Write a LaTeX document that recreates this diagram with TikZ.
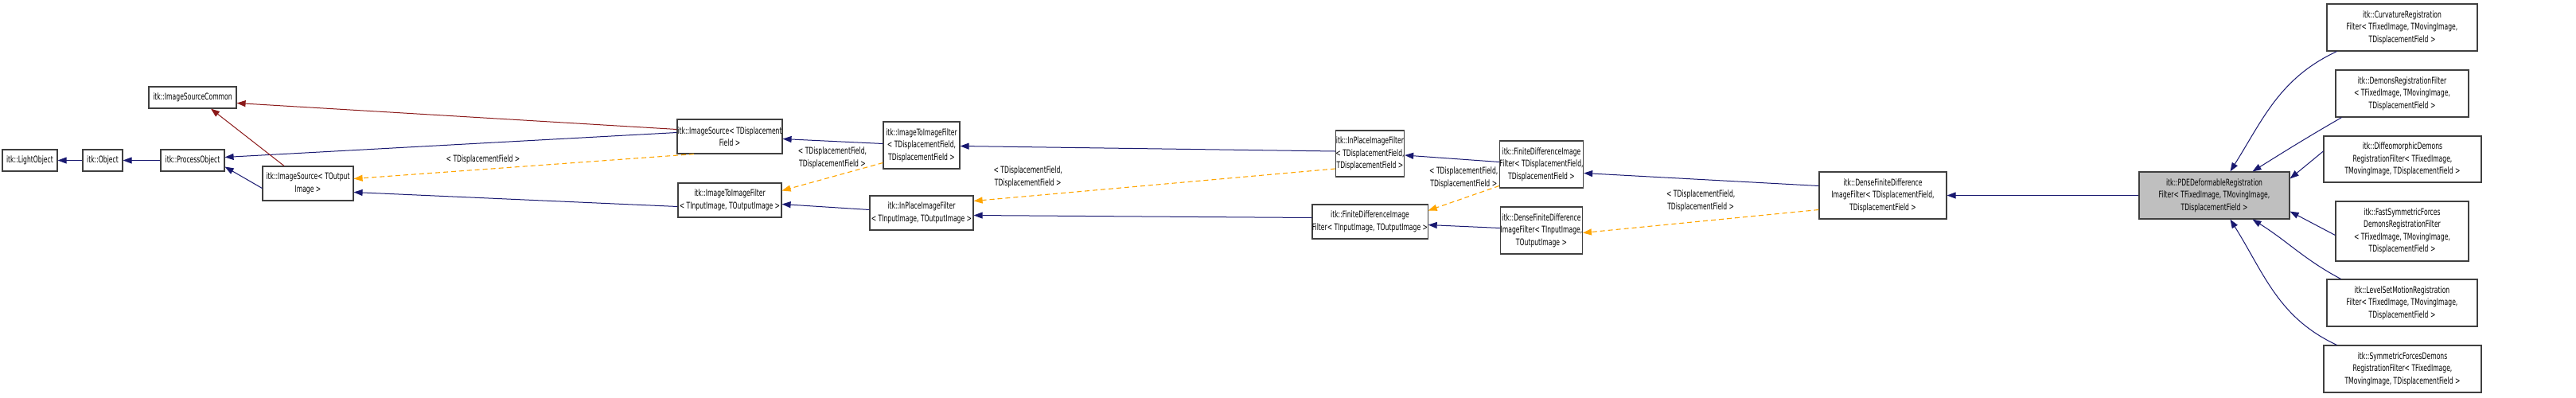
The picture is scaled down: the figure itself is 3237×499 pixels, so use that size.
\documentclass[tikz,border=0pt]{standalone}
\usepackage{fontspec}
\setmainfont{DejaVu Sans Condensed}[FakeStretch=0.74]
\usetikzlibrary{arrows.meta}
\definecolor{navy}{HTML}{191970}
\definecolor{dred}{HTML}{8B1A1A}
\definecolor{org}{HTML}{FFA500}
\begin{document}
\begin{tikzpicture}[x=1pt,y=1pt,
 box/.style={draw=black!75,line width=1.2pt,fill=white,inner sep=0pt,align=center,font=\fontsize{11.5}{15.5}\selectfont},
 lab/.style={inner sep=0pt,align=center,font=\fontsize{11.5}{15.5}\selectfont},
 inh/.style={draw=navy,line width=1pt,-{Triangle[length=11pt,width=8pt]}},
 use/.style={draw=dred,line width=1pt,-{Triangle[length=11pt,width=8pt]}},
 tpl/.style={draw=org,line width=1.1pt,dash pattern=on 6pt off 4pt,-{Triangle[length=11pt,width=8pt]}}]
\useasboundingbox (0,0) rectangle (3237,-499);
% nodes
\node[box,minimum width=69,minimum height=27] (lo) at (37.5,-201.5) {itk::LightObject};
\node[box,minimum width=50,minimum height=27] (ob) at (129,-201.5) {itk::Object};
\node[box,minimum width=80,minimum height=27] (po) at (242,-201.5) {itk::ProcessObject};
\node[box,minimum width=110,minimum height=27] (isc) at (242,-122.5) {itk::ImageSourceCommon};
\node[box,minimum width=114,minimum height=43] (iso) at (387,-230.5) {itk::ImageSource< TOutput\\Image >};
\node[box,minimum width=132,minimum height=43] (isd) at (917,-171.5) {itk::ImageSource< TDisplacement\\Field >};
\node[box,minimum width=130,minimum height=43] (itii) at (917,-251.5) {itk::ImageToImageFilter\\< TInputImage, TOutputImage >};
\node[box,minimum width=96,minimum height=59] (itid) at (1158,-182.5) {itk::ImageToImageFilter\\< TDisplacementField,\\TDisplacementField >};
\node[box,minimum width=130,minimum height=43] (ipi) at (1158,-267.5) {itk::InPlaceImageFilter\\< TInputImage, TOutputImage >};
\node[box,minimum width=83,minimum height=58] (ipd) at (1721.5,-193) {itk::InPlaceImageFilter\\< TDisplacementField,\\TDisplacementField >};
\node[box,minimum width=133,minimum height=43] (fdi) at (1721.5,-278.5) {itk::FiniteDifferenceImage\\Filter< TInputImage, TOutputImage >};
\node[box,minimum width=98,minimum height=59] (fdd) at (1937,-206.5) {itk::FiniteDifferenceImage\\Filter< TDisplacementField,\\TDisplacementField >};
\node[box,minimum width=98,minimum height=59] (dfi) at (1937,-289.5) {itk::DenseFiniteDifference\\ImageFilter< TInputImage,\\TOutputImage >};
\node[box,minimum width=160,minimum height=59] (dfd) at (2366,-245.5) {itk::DenseFiniteDifference\\ImageFilter< TDisplacementField,\\TDisplacementField >};
\node[box,fill=black!25,minimum width=189,minimum height=59] (pde) at (2782.5,-245.5) {itk::PDEDeformableRegistration\\Filter< TFixedImage, TMovingImage,\\TDisplacementField >};
\node[box,minimum width=189,minimum height=59] (cur) at (3018.5,-34.5) {itk::CurvatureRegistration\\Filter< TFixedImage, TMovingImage,\\TDisplacementField >};
\node[box,minimum width=167,minimum height=59] (dem) at (3018.5,-117.5) {itk::DemonsRegistrationFilter\\< TFixedImage, TMovingImage,\\TDisplacementField >};
\node[box,minimum width=198,minimum height=58] (dif) at (3019,-200) {itk::DiffeomorphicDemons\\RegistrationFilter< TFixedImage,\\TMovingImage, TDisplacementField >};
\node[box,minimum width=167,minimum height=75] (fas) at (3018.5,-290.5) {itk::FastSymmetricForces\\DemonsRegistrationFilter\\< TFixedImage, TMovingImage,\\TDisplacementField >};
\node[box,minimum width=189,minimum height=59] (lev) at (3018.5,-380.5) {itk::LevelSetMotionRegistration\\Filter< TFixedImage, TMovingImage,\\TDisplacementField >};
\node[box,minimum width=198,minimum height=59] (sym) at (3019,-463.5) {itk::SymmetricForcesDemons\\RegistrationFilter< TFixedImage,\\TMovingImage, TDisplacementField >};
% edges
\draw[inh] (ob) -- (lo);
\draw[inh] (po) -- (ob);
\draw[inh] ([yshift=-6]iso.west) -- ([yshift=-8]po.east);
\draw[inh] ([yshift=5]isd.west) -- ([yshift=4]po.east);
\draw[use] ([xshift=-30]iso.north) -- ([xshift=23]isc.south);
\draw[use] ([yshift=9]isd.west) -- ([yshift=-7]isc.east);
\draw[tpl] ([xshift=-45]isd.south) -- ([yshift=6]iso.east) node[lab,pos=0.62,above=6pt] {< TDisplacementField >};
\draw[inh] ([yshift=-8]itii.west) -- ([yshift=-11]iso.east);
\draw[inh] ([yshift=2]itid.west) -- ([yshift=-3]isd.east);
\draw[tpl] ([yshift=-22]itid.west) -- ([yshift=12]itii.east) node[lab,midway,above=10pt] {< TDisplacementField,\\TDisplacementField >};
\draw[inh] ([yshift=4]ipi.west) -- ([yshift=-5]itii.east);
\draw[inh] ([yshift=3]ipd.west) -- ([yshift=-1]itid.east);
\draw[tpl] ([yshift=-19]ipd.west) -- ([yshift=15]ipi.east) node[lab,pos=0.85,above=10pt] {< TDisplacementField,\\TDisplacementField >};
\draw[inh] ([yshift=5]fdi.west) -- ([yshift=-3]ipi.east);
\draw[inh] ([yshift=3]fdd.west) -- ([yshift=-2]ipd.east);
\draw[tpl] ([yshift=-27]fdd.west) -- ([yshift=14]fdi.east) node[lab,midway,above=12pt] {< TDisplacementField,\\TDisplacementField >};
\draw[inh] ([yshift=3]dfi.west) -- ([yshift=-4]fdi.east);
\draw[inh] ([yshift=12]dfd.west) -- ([yshift=-11]fdd.east);
\draw[tpl] ([yshift=-18]dfd.west) -- ([yshift=-3]dfi.east) node[lab,midway,above=12pt] {< TDisplacementField,\\TDisplacementField >};
\draw[inh] (pde) -- (dfd);
\draw[inh] ([xshift=13]cur.south west) to[out=205,in=58] ([xshift=20]pde.north);
\draw[inh] ([xshift=8]dem.south west) to[out=210,in=32] ([xshift=48]pde.north);
\draw[inh] ([yshift=10]dif.west) -- ([yshift=-9]pde.north east);
\draw[inh] ([yshift=-5]fas.west) -- ([yshift=10]pde.south east);
\draw[inh] ([xshift=18]lev.north west) to[out=152,in=-32] ([xshift=48]pde.south);
\draw[inh] ([xshift=17]sym.north west) to[out=155,in=-58] ([xshift=20]pde.south);
\end{tikzpicture}
\end{document}
